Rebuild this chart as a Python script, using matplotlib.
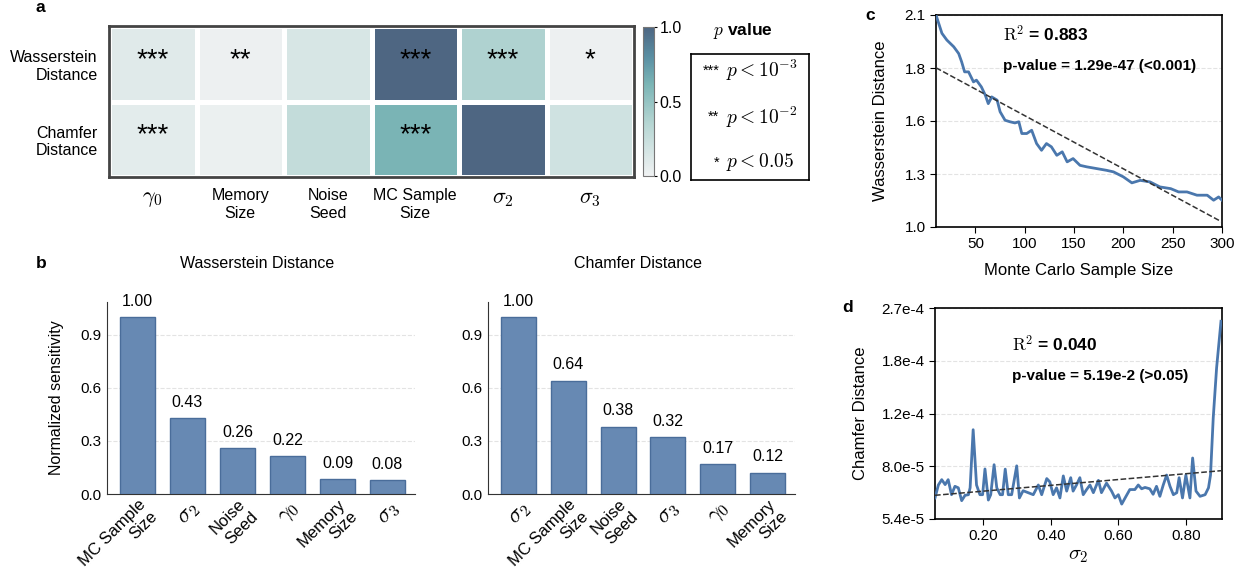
import numpy as np
import matplotlib
matplotlib.use('Agg')
from matplotlib import pyplot as plt
from matplotlib.colors import LinearSegmentedColormap
from matplotlib.ticker import FuncFormatter, NullLocator
from matplotlib.transforms import ScaledTranslation

# ---- data ----
heat_rows = ['Wasserstein\nDistance', 'Chamfer\nDistance']
heat_cols = [r'$\gamma_0$', 'Memory\nSize', 'Noise\nSeed', 'MC Sample\nSize', r'$\sigma_2$', r'$\sigma_3$']
heat_wass = [0.10, 0.02, 0.15, 1.00, 0.38, 0.02]
heat_cham = [0.08, 0.03, 0.27, 0.62, 1.00, 0.20]
stars_wass = ['***', '**', '', '***', '***', '*']
stars_cham = ['***', '', '', '***', '', '']

wass_names = ['MC Sample\nSize', r'$\sigma_2$', 'Noise\nSeed', r'$\gamma_0$', 'Memory\nSize', r'$\sigma_3$']
wass_sens = [1.00, 0.43, 0.26, 0.215, 0.085, 0.08]
wass_text = ['1.00', '0.43', '0.26', '0.22', '0.09', '0.08']
cham_names = [r'$\sigma_2$', 'MC Sample\nSize', 'Noise\nSeed', r'$\sigma_3$', r'$\gamma_0$', 'Memory\nSize']
cham_sens = [1.00, 0.64, 0.38, 0.32, 0.167, 0.12]
cham_text = ['1.00', '0.64', '0.38', '0.32', '0.17', '0.12']

mc_size = [10, 16, 21, 28, 33, 36, 39, 43, 48, 51, 56, 60, 63, 66.5, 72, 75, 80, 85, 90, 94,
           97, 102, 107, 112, 117, 122, 127, 132.5, 138, 143, 149, 156, 163, 173, 183, 190,
           200, 208.6, 217, 227, 237, 248, 256, 264.5, 274.6, 285, 291.5, 296.6, 300]
mc_wass = [2.10, 2.005, 1.97, 1.935, 1.90, 1.857, 1.805, 1.805, 1.753, 1.762, 1.727, 1.684,
           1.64, 1.675, 1.658, 1.598, 1.554, 1.546, 1.54, 1.546, 1.485, 1.485, 1.502, 1.433,
           1.398, 1.433, 1.416, 1.372, 1.39, 1.338, 1.355, 1.32, 1.312, 1.303, 1.294, 1.286,
           1.26, 1.229, 1.242, 1.234, 1.208, 1.199, 1.182, 1.182, 1.165, 1.165, 1.139, 1.156, 1.139]
mc_fit_x = [10, 300]
mc_fit_y = [1.826, 1.026]

sig2 = [0.057, 0.067, 0.077, 0.087, 0.096, 0.106, 0.116, 0.126, 0.136, 0.146, 0.156, 0.161,
        0.170, 0.180, 0.190, 0.198, 0.205, 0.215, 0.222, 0.232, 0.240, 0.250, 0.257, 0.265,
        0.274, 0.284, 0.299, 0.307, 0.318, 0.333, 0.348, 0.363, 0.373, 0.388, 0.397, 0.407,
        0.417, 0.427, 0.437, 0.447, 0.459, 0.466, 0.476, 0.486, 0.496, 0.506, 0.516, 0.526,
        0.541, 0.550, 0.565, 0.580, 0.590, 0.600, 0.610, 0.620, 0.634, 0.649, 0.659, 0.669,
        0.679, 0.693, 0.703, 0.713, 0.723, 0.733, 0.743, 0.753, 0.763, 0.773, 0.780, 0.790,
        0.800, 0.812, 0.820, 0.830, 0.842, 0.857, 0.867, 0.873, 0.881, 0.891, 0.904]
sig2_cham = [6.34e-5, 7.0e-5, 7.29e-5, 7.02e-5, 7.29e-5, 6.5e-5, 6.93e-5, 6.85e-5, 6.21e-5,
             6.47e-5, 6.5e-5, 6.85e-5, 1.067e-4, 7.0e-5, 6.5e-5, 6.5e-5, 7.91e-5, 6.24e-5,
             6.5e-5, 8.17e-5, 6.85e-5, 6.5e-5, 6.5e-5, 7.9e-5, 6.5e-5, 6.5e-5, 8.1e-5, 6.34e-5,
             6.7e-5, 6.6e-5, 6.5e-5, 7.0e-5, 6.5e-5, 7.35e-5, 7.17e-5, 6.5e-5, 6.85e-5, 6.34e-5,
             7.5e-5, 6.68e-5, 7.4e-5, 6.68e-5, 7.0e-5, 7.4e-5, 6.5e-5, 6.76e-5, 7.0e-5, 6.6e-5,
             7.25e-5, 6.6e-5, 7.1e-5, 6.68e-5, 6.34e-5, 6.5e-5, 6.05e-5, 6.34e-5, 6.76e-5,
             6.76e-5, 7.0e-5, 6.8e-5, 6.87e-5, 6.8e-5, 6.52e-5, 6.93e-5, 6.42e-5, 7.0e-5,
             7.55e-5, 6.93e-5, 6.5e-5, 6.6e-5, 7.4e-5, 6.34e-5, 7.55e-5, 6.34e-5, 8.6e-5,
             6.68e-5, 6.42e-5, 6.5e-5, 6.85e-5, 7.55e-5, 1.166e-4, 1.71e-4, 2.44e-4]
sig2_fit_x = [0.057, 0.907]
sig2_fit_y = [6.47e-5, 7.81e-5]
d_ytick_labels = ['5.4e-5', '8.0e-5', '1.2e-4', '1.8e-4', '2.7e-4']

# ---- style ----
plt.rcParams['font.family'] = ['Liberation Sans', 'DejaVu Sans']
plt.rcParams['mathtext.fontset'] = 'cm'

W, H = 1243, 569
fig = plt.figure(figsize=(W / 100, H / 100), dpi=100)


def px_axes(x0, y0, x1, y1):
    return fig.add_axes([x0 / W, 1 - y1 / H, (x1 - x0) / W, (y1 - y0) / H])


def bump_math(labels, size):
    for t in labels:
        if t.get_text().startswith('$'):
            t.set_fontsize(size)


bar_color = '#6789b3'
bar_edge = '#4a6d9a'
line_color = '#4a77ad'

# ---- a: heatmap ----
cmap = LinearSegmentedColormap.from_list(
    'sens', [(0, '#f0f2f3'), (0.35, '#b6d6d3'), (0.62, '#7ab4b5'), (0.8, '#5a8fa3'), (1, '#4e6682')])
ax = px_axes(109, 26, 634, 177)
vals = np.array([heat_wass, heat_cham])
mesh = ax.pcolormesh(vals, cmap=cmap, vmin=0, vmax=1, edgecolors='white', linewidth=2.5)
ax.set_ylim(2, 0)
ax.set_xlim(0, 6)
ax.set_xticks(np.arange(6) + 0.5)
ax.set_xticklabels(heat_cols, fontsize=11.5)
bump_math(ax.get_xticklabels(), 16)
ax.set_yticks([0.5, 1.5])
ax.set_yticklabels(heat_rows, fontsize=11.5, ha='right')
ax.tick_params(length=0, pad=8)
for s in ax.spines.values():
    s.set_color('#444444')
    s.set_linewidth(2)
for r, row in enumerate([stars_wass, stars_cham]):
    for c, st in enumerate(row):
        if st:
            ax.text(c + 0.5, r + 0.45, st, ha='center', va='center', fontsize=20)

cax = px_axes(643, 27, 654, 176)
cb = fig.colorbar(mesh, cax=cax, ticks=[0, 0.5, 1])
cb.ax.set_yticklabels(['0.0', '0.5', '1.0'])
cb.ax.tick_params(labelsize=11.5, length=2, pad=2)
cb.outline.set_edgecolor('#777777')

lax = px_axes(691, 54, 809, 180)
lax.set_xticks([])
lax.set_yticks([])
lax.set_xlim(0, 1)
lax.set_ylim(1, 0)
for s in lax.spines.values():
    s.set_linewidth(1.2)
leg_rows = [('***', r'$p < 10^{-3}$', 0.13), ('**', r'$p < 10^{-2}$', 0.5), ('*', r'$p < 0.05$', 0.86)]
for st, expr, yy in leg_rows:
    lax.text(0.24, yy, st, ha='right', va='center', fontsize=10.5)
    lax.text(0.30, yy, expr, ha='left', va='center', fontsize=14)
fig.text(743 / W, 1 - 31 / H, r'$p$ value', ha='center', va='center', fontsize=12.5, fontweight='bold')

# ---- b: bar charts ----
shift = ScaledTranslation(0.05, 0.02, fig.dpi_scale_trans)
for (x0, x1), names, sens, labels, title in [
        ((107, 415), wass_names, wass_sens, wass_text, 'Wasserstein Distance'),
        ((488, 795), cham_names, cham_sens, cham_text, 'Chamfer Distance')]:
    bx = px_axes(x0, 302, x1, 494)
    pos = np.arange(len(sens))
    bx.bar(pos, sens, width=0.7, color=bar_color, edgecolor=bar_edge, linewidth=1, zorder=3)
    for p, v, t in zip(pos, sens, labels):
        bx.annotate(t, (p, v), xytext=(0, 6), textcoords='offset points',
                    ha='center', va='bottom', fontsize=11.5)
    bx.set_ylim(0, 1.085)
    bx.set_xlim(-0.61, 5.55)
    bx.set_yticks([0, 0.3, 0.6, 0.9])
    bx.set_yticklabels(['0.0', '0.3', '0.6', '0.9'])
    bx.set_xticks(pos)
    bx.set_xticklabels(names, rotation=45, ha='right', rotation_mode='anchor', fontsize=12)
    bump_math(bx.get_xticklabels(), 16.5)
    for lab in bx.get_xticklabels():
        lab.set_transform(lab.get_transform() + shift)
    bx.tick_params(axis='y', labelsize=11, length=0, pad=4)
    bx.tick_params(axis='x', length=0, pad=2)
    bx.grid(axis='y', ls='--', color='#e3e3e3', lw=0.8, zorder=0)
    for s in ['top', 'right']:
        bx.spines[s].set_visible(False)
    bx.spines['left'].set_color('#333333')
    bx.spines['bottom'].set_color('#333333')
    fig.text((x0 + x1) / 2 / W - 4 / W, 1 - 264 / H, title, ha='center', va='center', fontsize=11.5)
    if x0 < 200:
        bx.set_ylabel('Normalized sensitivity', fontsize=11.5, labelpad=12)

# ---- c ----
cx = px_axes(936, 15, 1222, 227)
cx.plot(mc_size, mc_wass, color=line_color, lw=2, zorder=3)
cx.plot(mc_fit_x, mc_fit_y, color='#333333', ls='--', lw=1.1, zorder=4)
cx.set_xlim(10, 300)
cx.set_ylim(1.0, 2.1)
cx.set_xticks([50, 100, 150, 200, 250, 300])
cx.set_yticks(np.linspace(1.0, 2.1, 5))
cx.yaxis.set_major_formatter(FuncFormatter(lambda v, p: '%.1f' % v))
cx.grid(axis='y', ls='--', color='#e3e3e3', lw=0.8)
cx.tick_params(labelsize=11, length=4)
cx.set_xlabel('Monte Carlo Sample Size', fontsize=12, labelpad=8)
cx.set_ylabel('Wasserstein Distance', fontsize=12, labelpad=12)
for s in cx.spines.values():
    s.set_linewidth(1.2)
cx.text(0.235, 0.91, r'$\mathrm{R}^2$ = 0.883', transform=cx.transAxes, fontsize=12.5,
        fontweight='bold', va='center')
cx.text(0.235, 0.76, 'p-value = 1.29e-47 (<0.001)', transform=cx.transAxes, fontsize=11,
        fontweight='bold', va='center')

# ---- d ----
dx = px_axes(935, 308, 1222, 519)
dx.plot(sig2, sig2_cham, color=line_color, lw=2, zorder=3)
dx.plot(sig2_fit_x, sig2_fit_y, color='#333333', ls='--', lw=1.1, zorder=4)
dx.set_yscale('log')
dx.set_xlim(0.057, 0.907)
dx.set_ylim(5.4e-5, 2.7e-4)
dx.set_xticks([0.2, 0.4, 0.6, 0.8])
dx.xaxis.set_major_formatter(FuncFormatter(lambda v, p: '%.2f' % v))
dx.yaxis.set_minor_locator(NullLocator())
dx.set_yticks(np.geomspace(5.4e-5, 2.7e-4, 5))
dx.set_yticklabels(d_ytick_labels)
dx.grid(axis='y', ls='--', color='#e3e3e3', lw=0.8)
dx.tick_params(labelsize=11, length=4)
dx.set_xlabel(r'$\sigma_2$', fontsize=15, labelpad=2)
dx.set_ylabel('Chamfer Distance', fontsize=12, labelpad=10)
for s in dx.spines.values():
    s.set_linewidth(1.2)
dx.text(0.27, 0.83, r'$\mathrm{R}^2$ = 0.040', transform=dx.transAxes, fontsize=12.5,
        fontweight='bold', va='center')
dx.text(0.27, 0.68, 'p-value = 5.19e-2 (>0.05)', transform=dx.transAxes, fontsize=11,
        fontweight='bold', va='center')

# panel letters
for letter, x, y in [('a', 40, 8), ('b', 41, 263), ('c', 870, 15), ('d', 848, 308)]:
    fig.text(x / W, 1 - y / H, letter, ha='center', va='center', fontsize=12.5, fontweight='bold')

fig.savefig('out.png', dpi=100)
